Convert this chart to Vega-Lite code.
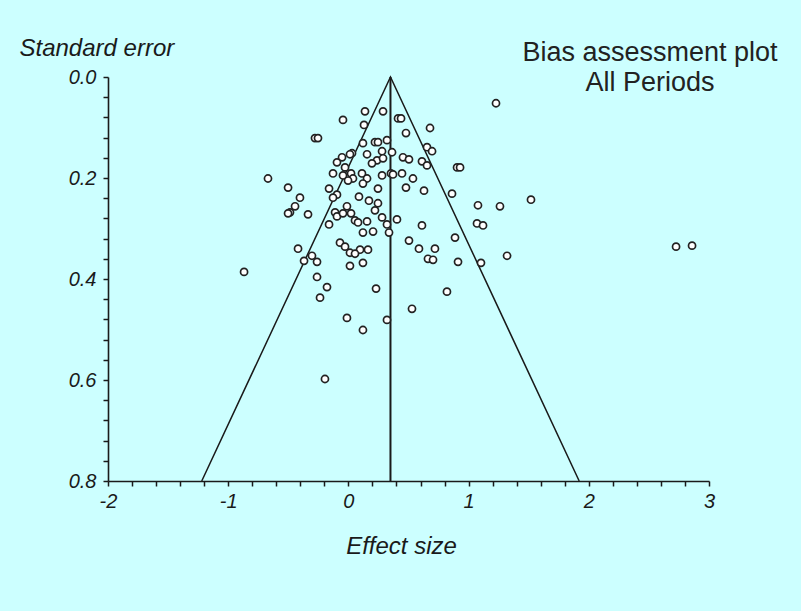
{
  "$schema": "https://vega.github.io/schema/vega-lite/v6.json",
  "width": 601,
  "height": 404,
  "autosize": "none",
  "padding": {"left": 108, "top": 77, "right": 92, "bottom": 130},
  "background": "#CCFFFF",
  "config": {"view": {"stroke": null}, "font": "Liberation Sans"},
  "title": {
    "text": ["Bias assessment plot", "All Periods"],
    "font": "Liberation Sans",
    "fontSize": 27,
    "fontWeight": "normal",
    "color": "#222",
    "anchor": "start",
    "align": "center",
    "frame": "group",
    "baseline": "alphabetic",
    "lineHeight": 30,
    "offset": 0,
    "dx": 542,
    "dy": 82
  },
  "datasets": {
    "studies": [
      {"x": 0.138, "se": 0.068}, {"x": 0.288, "se": 0.068}, {"x": -0.045, "se": 0.085}, {"x": 0.413, "se": 0.082},
      {"x": 0.438, "se": 0.082}, {"x": 0.130, "se": 0.095}, {"x": 0.679, "se": 0.101}, {"x": 0.479, "se": 0.111},
      {"x": -0.278, "se": 0.121}, {"x": -0.253, "se": 0.121}, {"x": 0.121, "se": 0.131}, {"x": 0.221, "se": 0.129},
      {"x": 0.246, "se": 0.129}, {"x": 0.321, "se": 0.125}, {"x": 0.654, "se": 0.139}, {"x": 0.696, "se": 0.147},
      {"x": 0.030, "se": 0.151}, {"x": 0.013, "se": 0.153}, {"x": -0.053, "se": 0.159}, {"x": 0.155, "se": 0.153},
      {"x": 0.280, "se": 0.147}, {"x": 0.363, "se": 0.149}, {"x": 0.454, "se": 0.159}, {"x": 0.504, "se": 0.163},
      {"x": 0.238, "se": 0.165}, {"x": 0.288, "se": 0.161}, {"x": 0.196, "se": 0.171}, {"x": -0.095, "se": 0.169},
      {"x": 0.612, "se": 0.167}, {"x": 0.654, "se": 0.175}, {"x": 0.904, "se": 0.179}, {"x": 0.929, "se": 0.179},
      {"x": -0.028, "se": 0.179}, {"x": -0.128, "se": 0.191}, {"x": -0.045, "se": 0.195}, {"x": 0.022, "se": 0.191},
      {"x": 0.113, "se": 0.191}, {"x": 0.038, "se": 0.201}, {"x": -0.003, "se": 0.205}, {"x": 0.155, "se": 0.201},
      {"x": 0.121, "se": 0.211}, {"x": 0.280, "se": 0.195}, {"x": 0.354, "se": 0.191}, {"x": 0.371, "se": 0.193},
      {"x": 0.446, "se": 0.191}, {"x": 0.537, "se": 0.201}, {"x": -0.669, "se": 0.201}, {"x": -0.502, "se": 0.219},
      {"x": -0.161, "se": 0.221}, {"x": 0.246, "se": 0.221}, {"x": 0.479, "se": 0.219}, {"x": 0.629, "se": 0.225},
      {"x": -0.403, "se": 0.239}, {"x": -0.095, "se": 0.233}, {"x": -0.128, "se": 0.239}, {"x": 0.088, "se": 0.237},
      {"x": 0.171, "se": 0.245}, {"x": 0.246, "se": 0.250}, {"x": 0.862, "se": 0.231}, {"x": 1.078, "se": 0.254},
      {"x": -0.444, "se": 0.256}, {"x": -0.486, "se": 0.268}, {"x": -0.502, "se": 0.270}, {"x": -0.336, "se": 0.272},
      {"x": -0.012, "se": 0.256}, {"x": -0.111, "se": 0.268}, {"x": -0.095, "se": 0.276}, {"x": -0.045, "se": 0.270},
      {"x": 0.022, "se": 0.270}, {"x": 0.055, "se": 0.284}, {"x": 0.080, "se": 0.288}, {"x": 0.155, "se": 0.286},
      {"x": 0.221, "se": 0.264}, {"x": 0.280, "se": 0.278}, {"x": 0.321, "se": 0.292}, {"x": 0.404, "se": 0.282},
      {"x": -0.161, "se": 0.292}, {"x": 0.121, "se": 0.308}, {"x": 0.205, "se": 0.306}, {"x": 0.338, "se": 0.308},
      {"x": 0.612, "se": 0.294}, {"x": 1.070, "se": 0.290}, {"x": 0.887, "se": 0.318}, {"x": 0.504, "se": 0.324},
      {"x": -0.070, "se": 0.328}, {"x": -0.028, "se": 0.336}, {"x": -0.419, "se": 0.340}, {"x": 0.587, "se": 0.340},
      {"x": 0.720, "se": 0.340}, {"x": 0.097, "se": 0.342}, {"x": 0.163, "se": 0.342}, {"x": 0.013, "se": 0.348},
      {"x": 0.055, "se": 0.350}, {"x": -0.303, "se": 0.354}, {"x": -0.369, "se": 0.364}, {"x": -0.261, "se": 0.366},
      {"x": 0.662, "se": 0.360}, {"x": 0.704, "se": 0.362}, {"x": 0.912, "se": 0.366}, {"x": 0.121, "se": 0.368},
      {"x": 0.013, "se": 0.374}, {"x": -0.868, "se": 0.386}, {"x": -0.261, "se": 0.396}, {"x": -0.178, "se": 0.416},
      {"x": -0.236, "se": 0.437}, {"x": 0.230, "se": 0.419}, {"x": 0.820, "se": 0.425}, {"x": 0.529, "se": 0.459},
      {"x": -0.012, "se": 0.477}, {"x": 0.121, "se": 0.501}, {"x": 0.321, "se": 0.481}, {"x": -0.195, "se": 0.598},
      {"x": 1.261, "se": 0.256}, {"x": 1.519, "se": 0.243}, {"x": 1.120, "se": 0.294}, {"x": 1.320, "se": 0.354},
      {"x": 1.103, "se": 0.368}, {"x": 2.726, "se": 0.336}, {"x": 2.859, "se": 0.334}, {"x": 1.228, "se": 0.052}
    ],
    "funnel": [
      {"x": -1.22, "se": 0.8, "o": 1},
      {"x": 0.35, "se": 0.0, "o": 2},
      {"x": 1.92, "se": 0.8, "o": 3}
    ],
    "centre": [
      {"x": 0.35, "se": 0.0, "se2": 0.8}
    ]
  },
  "encoding": {
    "x": {
      "field": "x",
      "type": "quantitative",
      "scale": {"domain": [-2, 3], "nice": false, "zero": false},
      "axis": {
        "title": "Effect size",
        "values": [-2, -1.8, -1.6, -1.4, -1.2, -1, -0.8, -0.6, -0.4, -0.2, 0, 0.2, 0.4, 0.6, 0.8, 1, 1.2, 1.4, 1.6, 1.8, 2, 2.2, 2.4, 2.6, 2.8, 3],
        "labelExpr": "abs(datum.value - round(datum.value)) < 0.001 ? '' + round(datum.value) : ''",
        "grid": false,
        "tickSize": 5,
        "tickWidth": 1.5,
        "tickColor": "#1a1a1a",
        "domainColor": "#1a1a1a",
        "domainWidth": 1.6,
        "labelFont": "Liberation Sans",
        "labelFontStyle": "italic",
        "labelFontSize": 20,
        "labelColor": "#1a1a1a",
        "labelPadding": 5,
        "labelOverlap": false,
        "labelFlush": false,
        "labelBound": false,
        "titleFont": "Liberation Sans",
        "titleFontStyle": "italic",
        "titleFontWeight": "normal",
        "titleFontSize": 24,
        "titleColor": "#1a1a1a",
        "titleBaseline": "middle",
        "titleX": 293,
        "titleY": 65
      }
    },
    "y": {
      "field": "se",
      "type": "quantitative",
      "scale": {"domain": [0, 0.8], "reverse": true, "nice": false, "zero": false},
      "axis": {
        "title": "Standard error",
        "values": [0, 0.04, 0.08, 0.12, 0.16, 0.2, 0.24, 0.28, 0.32, 0.36, 0.4, 0.44, 0.48, 0.52, 0.56, 0.6, 0.64, 0.68, 0.72, 0.76, 0.8],
        "labelExpr": "abs(datum.value * 5 - round(datum.value * 5)) < 0.001 ? format(datum.value, '.1f') : ''",
        "grid": false,
        "tickSize": 5,
        "tickWidth": 1.5,
        "tickColor": "#1a1a1a",
        "domainColor": "#1a1a1a",
        "domainWidth": 1.6,
        "labelFont": "Liberation Sans",
        "labelFontStyle": "italic",
        "labelFontSize": 20,
        "labelColor": "#1a1a1a",
        "labelPadding": 7,
        "labelOverlap": false,
        "labelFlush": false,
        "labelBound": false,
        "titleFont": "Liberation Sans",
        "titleFontStyle": "italic",
        "titleFontWeight": "normal",
        "titleFontSize": 24,
        "titleColor": "#1a1a1a",
        "titleAngle": 0,
        "titleAlign": "left",
        "titleBaseline": "middle",
        "titleX": -89,
        "titleY": -29
      }
    }
  },
  "layer": [
    {
      "data": {"name": "funnel"},
      "mark": {"type": "line", "color": "#1a1a1a", "strokeWidth": 1.5},
      "encoding": {"order": {"field": "o", "type": "quantitative"}}
    },
    {
      "data": {"name": "centre"},
      "mark": {"type": "rule", "color": "#1a1a1a", "strokeWidth": 2},
      "encoding": {"y2": {"field": "se2"}}
    },
    {
      "data": {"name": "studies"},
      "mark": {"type": "point", "shape": "circle", "filled": true, "fill": "white", "stroke": "#222", "strokeWidth": 1.7, "size": 50, "opacity": 1}
    }
  ]
}
